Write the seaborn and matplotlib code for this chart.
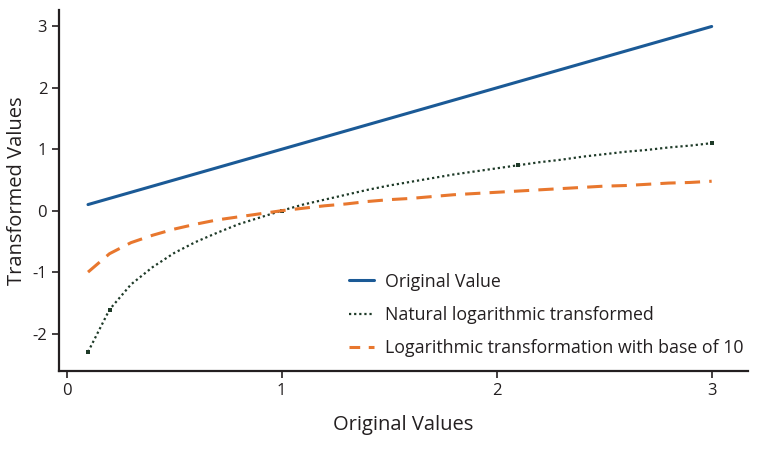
import matplotlib
matplotlib.use("Agg")
import matplotlib.pyplot as plt
import seaborn as sns
import pandas as pd

x_vals = [0.1, 0.2, 0.3, 0.4, 0.5, 0.6, 0.7, 0.8, 0.9, 1.0,
          1.1, 1.2, 1.3, 1.4, 1.5, 1.6, 1.7, 1.8, 1.9, 2.0,
          2.1, 2.2, 2.3, 2.4, 2.5, 2.6, 2.7, 2.8, 2.9, 3.0]
original = [0.1, 0.2, 0.3, 0.4, 0.5, 0.6, 0.7, 0.8, 0.9, 1.0,
            1.1, 1.2, 1.3, 1.4, 1.5, 1.6, 1.7, 1.8, 1.9, 2.0,
            2.1, 2.2, 2.3, 2.4, 2.5, 2.6, 2.7, 2.8, 2.9, 3.0]
natural_log = [-2.30, -1.61, -1.20, -0.92, -0.69, -0.51, -0.36, -0.22, -0.11, 0.00,
               0.10, 0.18, 0.26, 0.34, 0.41, 0.47, 0.53, 0.59, 0.64, 0.69,
               0.74, 0.79, 0.83, 0.88, 0.92, 0.96, 0.99, 1.03, 1.06, 1.10]
log10_vals = [-1.00, -0.70, -0.52, -0.40, -0.30, -0.22, -0.15, -0.10, -0.05, 0.00,
              0.04, 0.08, 0.11, 0.15, 0.18, 0.20, 0.23, 0.26, 0.28, 0.30,
              0.32, 0.34, 0.36, 0.38, 0.40, 0.41, 0.43, 0.45, 0.46, 0.48]
labels = ["Original Value", "Natural logarithmic transformed",
          "Logarithmic transformation with base of 10"]
x_ticks = [0, 1, 2, 3]
y_ticks = [-2, -1, 0, 1, 2, 3]

sns.set_style("ticks")
plt.rcParams["font.family"] = ["Open Sans", "DejaVu Sans"]

df = pd.DataFrame({"x": x_vals, "orig": original, "ln": natural_log, "lg": log10_vals})

fig = plt.figure(figsize=(7.69, 4.5), dpi=100)
ax = fig.add_axes([0.0767, 0.1756, 0.8963, 0.8024])

sns.lineplot(data=df, x="x", y="orig", ax=ax, color="#1b5a96", lw=2.2, label=labels[0])
sns.lineplot(data=df, x="x", y="ln", ax=ax, color="#1e3a28", lw=1.6, ls=(0, (1, 1.3)),
             label=labels[1], marker="s", markersize=3.5, markevery=[0, 1, 9, 20, 29],
             markeredgewidth=0)
sns.lineplot(data=df, x="x", y="lg", ax=ax, color="#e8772e", lw=2.2, ls=(0, (5, 3)),
             label=labels[2])

ax.set_xlim(-0.035, 3.17)
ax.set_ylim(-2.61, 3.27)
ax.set_xticks(x_ticks)
ax.set_yticks(y_ticks)
ax.set_xticklabels([str(t) for t in x_ticks], fontsize=12, color="#231f20")
ax.set_yticklabels([str(t) for t in y_ticks], fontsize=12, color="#231f20")
ax.set_xlabel("Original Values", fontsize=14.5, color="#231f20", labelpad=12)
ax.set_ylabel("Transformed Values", fontsize=14.5, color="#231f20", labelpad=4)
for s in ["top", "right"]:
    ax.spines[s].set_visible(False)
for s in ["left", "bottom"]:
    ax.spines[s].set_linewidth(1.6)
    ax.spines[s].set_color("#231f20")
ax.tick_params(axis="both", length=5, width=1.2, color="#231f20")

leg = ax.legend(loc="upper left", bbox_to_anchor=(0.41, 0.292), frameon=False,
                fontsize=12.8, handlelength=1.45, handletextpad=0.6, labelspacing=0.85,
                borderaxespad=0)
for h in leg.legend_handles:
    h.set_marker("")
leg.legend_handles[2].set_linestyle((0, (3.5, 2.8)))
for t in leg.get_texts():
    t.set_color("#231f20")

fig.savefig("out.png", dpi=100)
